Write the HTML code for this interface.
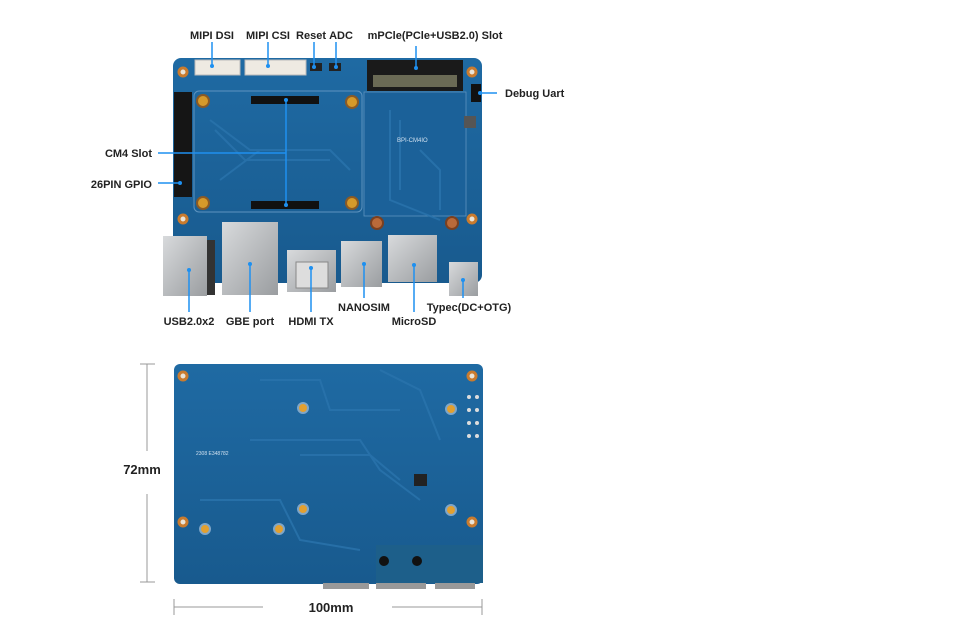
<!DOCTYPE html>
<html><head><meta charset="utf-8"><style>
html,body{margin:0;padding:0;background:#fff;}
svg{display:block;}
text{font-family:"Liberation Sans",sans-serif;font-size:11px;fill:#222;font-weight:bold;}
</style></head><body>
<svg width="976" height="631" viewBox="0 0 976 631" xmlns="http://www.w3.org/2000/svg">
<defs>
<linearGradient id="bd" x1="0" y1="0" x2="0" y2="1"><stop offset="0" stop-color="#1f6aa3"/><stop offset="1" stop-color="#185a8e"/></linearGradient>
<linearGradient id="mt" x1="0" y1="0" x2="1" y2="1"><stop offset="0" stop-color="#d8dadc"/><stop offset="1" stop-color="#9a9da0"/></linearGradient>
</defs>
<!-- TOP BOARD -->
<rect x="173" y="58" width="309" height="225" rx="8" fill="url(#bd)"/>
<rect x="194" y="91" width="168" height="121" rx="5" fill="none" stroke="#5d93bf" stroke-width="1"/>
<rect x="364" y="92" width="102" height="124" fill="#1b6199" stroke="#5d93bf" stroke-width="0.8"/>
<!-- traces -->
<g stroke="#2a74ad" stroke-width="2" fill="none" opacity="0.8">
<path d="M210 120 L250 150 L330 150 L350 170"/><path d="M215 130 L245 160 L330 160"/><path d="M220 180 L260 150"/><path d="M390 110 L390 200 L440 220"/><path d="M400 120 L400 190"/><path d="M420 150 L440 170 L440 210"/>
</g>
<!-- mount holes -->
<g fill="#e9e4d8" stroke="#c97b2e" stroke-width="3"><circle cx="183" cy="72" r="4"/><circle cx="472" cy="72" r="4"/><circle cx="183" cy="219" r="4"/><circle cx="472" cy="219" r="4"/></g>
<g fill="#d69a2a" stroke="#8a5a25" stroke-width="2"><circle cx="203" cy="101" r="6"/><circle cx="352" cy="102" r="6"/><circle cx="203" cy="203" r="6"/><circle cx="352" cy="203" r="6"/></g>
<g fill="#b96a3a" stroke="#7a4020" stroke-width="2"><circle cx="377" cy="223" r="6"/><circle cx="452" cy="223" r="6"/></g>
<!-- FPC connectors -->
<rect x="195" y="60" width="45" height="15" fill="#eeeae2" stroke="#bbb"/><rect x="245" y="60" width="61" height="15" fill="#eeeae2" stroke="#bbb"/>
<rect x="310" y="63" width="12" height="8" fill="#222"/><rect x="329" y="63" width="12" height="8" fill="#222"/>
<!-- mpcie -->
<rect x="367" y="60" width="96" height="31" fill="#1a1a1a"/><rect x="373" y="75" width="84" height="12" fill="#6a6a55"/>
<!-- cm4 connectors -->
<rect x="251" y="96" width="68" height="8" fill="#111"/><rect x="251" y="201" width="68" height="8" fill="#111"/>
<!-- gpio -->
<rect x="174" y="92" width="18" height="105" fill="#151515"/>
<rect x="471" y="84" width="10" height="18" fill="#111"/>
<rect x="464" y="116" width="12" height="12" fill="#555"/>
<text x="397" y="142" style="font-size:6px;fill:#cfe0ef;font-weight:normal">BPI-CM4IO</text>
<!-- bottom connectors -->
<rect x="163" y="236" width="44" height="60" fill="url(#mt)"/><rect x="207" y="240" width="8" height="55" fill="#333"/>
<rect x="222" y="222" width="56" height="73" fill="url(#mt)"/>
<rect x="287" y="250" width="49" height="42" fill="url(#mt)"/><rect x="296" y="262" width="32" height="26" fill="#ddd" stroke="#888"/>
<rect x="341" y="241" width="41" height="46" fill="url(#mt)"/>
<rect x="388" y="235" width="49" height="47" fill="url(#mt)"/>
<rect x="449" y="262" width="29" height="34" fill="url(#mt)"/>
<!-- labels and leaders -->
<g stroke="#1e90f0" stroke-width="1.5" fill="none">
<path d="M212 42 V66"/><path d="M268 42 V66"/><path d="M314 42 V67"/><path d="M336 42 V67"/><path d="M416 46 V68"/>
<path d="M480 93 H497"/>
<path d="M158 153 H286 M286 100 V205"/><path d="M158 183 H180"/>
<path d="M189 270 V312"/><path d="M250 264 V312"/><path d="M311 268 V312"/><path d="M364 264 V298"/><path d="M414 265 V312"/><path d="M463 280 V298"/>
</g>
<g fill="#1e90f0"><circle cx="212" cy="66" r="2"/><circle cx="268" cy="66" r="2"/><circle cx="314" cy="67" r="2"/><circle cx="336" cy="67" r="2"/><circle cx="416" cy="68" r="2"/><circle cx="480" cy="93" r="2"/><circle cx="286" cy="100" r="2"/><circle cx="286" cy="205" r="2"/><circle cx="180" cy="183" r="2"/><circle cx="189" cy="270" r="2"/><circle cx="250" cy="264" r="2"/><circle cx="311" cy="268" r="2"/><circle cx="364" cy="264" r="2"/><circle cx="414" cy="265" r="2"/><circle cx="463" cy="280" r="2"/></g>
<text x="212" y="39" text-anchor="middle">MIPI DSI</text>
<text x="268" y="39" text-anchor="middle">MIPI CSI</text>
<text x="311" y="39" text-anchor="middle">Reset</text>
<text x="341" y="39" text-anchor="middle">ADC</text>
<text x="435" y="39" text-anchor="middle">mPCle(PCle+USB2.0) Slot</text>
<text x="505" y="97">Debug Uart</text>
<text x="152" y="157" text-anchor="end">CM4 Slot</text>
<text x="152" y="188" text-anchor="end">26PIN GPIO</text>
<text x="189" y="325" text-anchor="middle">USB2.0x2</text>
<text x="250" y="325" text-anchor="middle">GBE port</text>
<text x="311" y="325" text-anchor="middle">HDMI TX</text>
<text x="364" y="311" text-anchor="middle">NANOSIM</text>
<text x="414" y="325" text-anchor="middle">MicroSD</text>
<text x="469" y="311" text-anchor="middle">Typec(DC+OTG)</text>
<!-- BOTTOM BOARD -->
<rect x="174" y="364" width="309" height="220" rx="6" fill="url(#bd)"/>
<g stroke="#2a74ad" stroke-width="2" fill="none" opacity="0.8">
<path d="M260 380 L320 380 L330 410 L400 410"/><path d="M250 440 L360 440 L380 470 L420 500"/><path d="M300 455 L370 455 L400 480"/><path d="M380 370 L420 390 L440 440"/><path d="M200 500 L280 500 L300 540 L360 550"/>
</g>
<g fill="#e9e4d8" stroke="#c97b2e" stroke-width="3"><circle cx="183" cy="376" r="4"/><circle cx="472" cy="376" r="4"/><circle cx="183" cy="522" r="4"/><circle cx="472" cy="522" r="4"/></g>
<g fill="#e2a030" stroke="#7fa6c8" stroke-width="2"><circle cx="303" cy="408" r="5"/><circle cx="451" cy="409" r="5"/><circle cx="303" cy="509" r="5"/><circle cx="451" cy="510" r="5"/><circle cx="205" cy="529" r="5"/><circle cx="279" cy="529" r="5"/></g>
<rect x="414" y="474" width="13" height="12" fill="#222"/>
<rect x="376" y="545" width="107" height="38" fill="#1d5f8a"/>
<circle cx="384" cy="561" r="5" fill="#111"/><circle cx="417" cy="561" r="5" fill="#111"/>
<rect x="323" y="583" width="46" height="6" fill="#999"/><rect x="376" y="583" width="50" height="6" fill="#999"/><rect x="435" y="583" width="40" height="6" fill="#999"/>
<g fill="#ddd"><circle cx="469" cy="397" r="2"/><circle cx="477" cy="397" r="2"/><circle cx="469" cy="410" r="2"/><circle cx="477" cy="410" r="2"/><circle cx="469" cy="423" r="2"/><circle cx="477" cy="423" r="2"/><circle cx="469" cy="436" r="2"/><circle cx="477" cy="436" r="2"/></g>
<text x="196" y="455" style="font-size:5px;fill:#cfe0ef;font-weight:normal">2308 E348782</text>
<!-- dimension lines -->
<g stroke="#999" stroke-width="1" fill="none">
<path d="M147 364 V451 M147 494 V582 M140 364 H155 M140 582 H155"/>
<path d="M174 599 V615 M482 599 V615 M174 607 H263 M392 607 H482"/>
</g>
<text x="142" y="474" text-anchor="middle" style="font-size:13px">72mm</text>
<text x="331" y="612" text-anchor="middle" style="font-size:13px">100mm</text>
</svg>
</body></html>
